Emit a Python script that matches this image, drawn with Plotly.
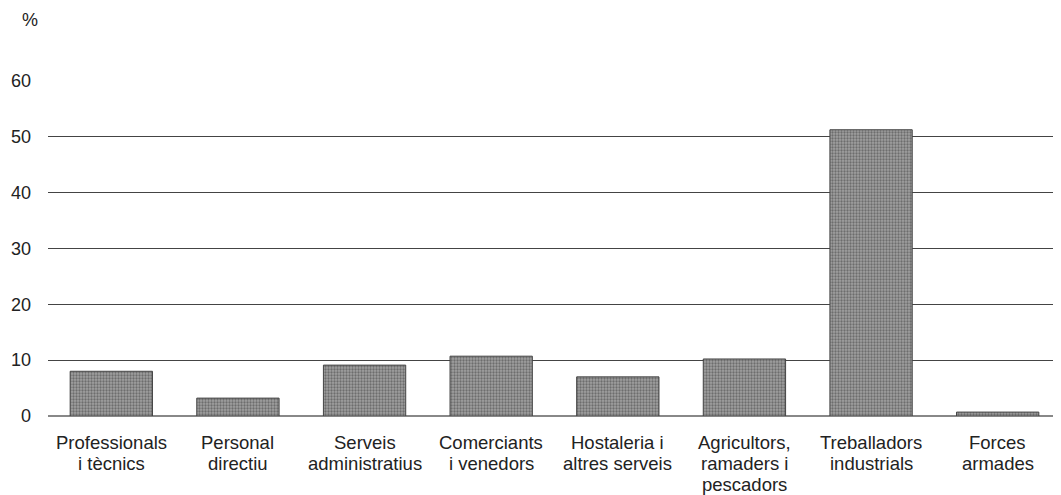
import plotly.graph_objects as go

categories = [
    "Professionals<br>i tècnics",
    "Personal<br>directiu",
    "Serveis<br>administratius",
    "Comerciants<br>i venedors",
    "Hostaleria i<br>altres serveis",
    "Agricultors,<br>ramaders i<br>pescadors",
    "Treballadors<br>industrials",
    "Forces<br>armades",
]
values = [8.0, 3.2, 9.1, 10.7, 7.0, 10.2, 51.2, 0.7]
y_ticks = [0, 10, 20, 30, 40, 50, 60]

fig = go.Figure()
fig.add_trace(go.Bar(
    x=categories, y=values,
    marker=dict(
        color="#999",
        line=dict(color="#444", width=1),
        pattern=dict(shape=".", size=3, solidity=0.45, fgcolor="#3a3a3a", bgcolor="#a0a0a0",
                     fillmode="overlay"),
    ),
    showlegend=False,
))

# category labels, one annotation per line so the leading stays tight
annotations = []
for cat in categories:
    for i, line in enumerate(cat.split("<br>")):
        annotations.append(dict(
            text=line, x=cat, y=0, xref="x", yref="y",
            yanchor="top", xanchor="center", yshift=-14 - 21 * i,
            showarrow=False, font=dict(size=18.5, color="#222"),
        ))
annotations.append(dict(text="%", x=-0.018, y=1.18, xref="paper", yref="paper",
                        xanchor="center", yanchor="middle", showarrow=False,
                        font=dict(size=18, color="#222")))

# page body has an 8px margin, so the margins are offset by it
fig.update_layout(
    width=1061, height=495,
    margin=dict(l=40, r=8, t=72, b=87),
    plot_bgcolor="white", paper_bgcolor="white",
    bargap=0.35,
    font=dict(family="Liberation Sans, Arial, sans-serif", size=18, color="#222"),
    xaxis=dict(showgrid=False, showline=False, ticks="", showticklabels=False, automargin=False),
    yaxis=dict(range=[0, 60.1], tickvals=y_ticks, showgrid=True, gridcolor="#444", gridwidth=1,
               zeroline=True, zerolinecolor="#888", zerolinewidth=2, automargin=False,
               ticklabelstandoff=16, tickfont=dict(size=18)),
    annotations=annotations,
)
fig.write_html("out.html")
